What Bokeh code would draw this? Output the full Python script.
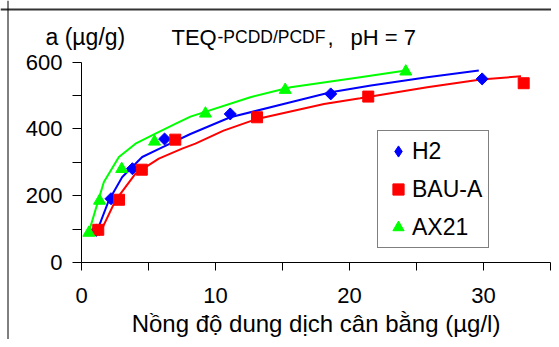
import math
from bokeh.plotting import figure
from bokeh.models import Range1d, FixedTicker, Legend, LegendItem, Label, Span
from bokeh.embed import file_html
from bokeh.resources import INLINE

# ---------------- data ----------------
series_names = ["H2", "BAU-A", "AX21"]

h2_x = [1.1, 2.2, 3.8, 6.2, 11.1, 18.6, 29.9]
h2_y = [96, 191, 281, 370, 445, 505, 550]
bau_x = [1.25, 2.8, 4.5, 7.0, 13.1, 21.4, 33.0]
bau_y = [98, 188, 278, 368, 435, 497, 537]
ax_x = [0.55, 1.35, 3.0, 5.45, 9.25, 15.2, 24.2]
ax_y = [89, 185, 280, 362, 446, 517, 572]

# fitted isotherm curves
h2_fit_x = [1.04, 2.04, 3.04, 4.53, 6.02, 8.13, 11.1, 15.6, 18.6, 21.6, 25.8, 29.65]
h2_fit_y = [81, 186, 256, 316, 345, 385, 435, 480, 510, 530, 555, 575]
bau_fit_x = [1.29, 2.54, 4.03, 5.77, 7.51, 8.5, 10.6, 13.1, 18.1, 20.8, 25.8, 29.8, 32.8]
bau_fit_y = [81, 186, 266, 311, 341, 356, 395, 430, 475, 492, 525, 548, 558]
ax_fit_x = [0.55, 1.29, 1.67, 2.79, 4.03, 5.52, 7.0, 8.13, 12.6, 15.6, 20.8, 24.2]
ax_fit_y = [91, 191, 241, 316, 356, 386, 415, 437, 495, 525, 555, 575]

x_ticks = [0, 10, 20, 30]
x_minor_ticks = [5, 15, 25, 35]
y_ticks = [0, 200, 400, 600]
y_minor_ticks = [100, 300, 500]
x_axis_bounds = (0, 35)
y_axis_bounds = (0, 600)

x_label = "Nồng độ dung dịch cân bằng (µg/l)"
y_label = "a (µg/g)"
title_parts = ["TEQ", "-PCDD/PCDF", ",", "pH = 7"]

# ---------------- layout (canvas pixels) ----------------
W, H = 551, 339
X0_PX, X_PX_PER_UNIT = 81.0, 13.4          # canvas x of data x=0, px per unit
Y0_PX, Y_PX_PER_UNIT = 262.0, 200.3 / 600  # canvas y of data y=0, px per unit


def dx(px):
    return (px - X0_PX) / X_PX_PER_UNIT


def dy(py):
    return (Y0_PX - py) / Y_PX_PER_UNIT


FONT = "Liberation Sans"
BLUE, RED, GREEN = "#0000FF", "#FF0000", "#00FF00"

p = figure(
    width=W, height=H,
    output_backend="svg", toolbar_location=None,
    x_range=Range1d(dx(0), dx(W)),
    y_range=Range1d(dy(H), dy(0)),
    min_border=0, min_border_left=0, min_border_right=0,
    min_border_top=0, min_border_bottom=0,
    background_fill_color="white", border_fill_color="white",
    outline_line_color=None,
)
p.grid.visible = False

xa, ya = p.xaxis[0], p.yaxis[0]
xa.fixed_location = 0
ya.fixed_location = 0
xa.bounds = x_axis_bounds
ya.bounds = y_axis_bounds
for ax in (xa, ya):
    ax.axis_line_color = "black"
    ax.axis_line_width = 1
    ax.major_tick_line_color = "black"
    ax.minor_tick_line_color = "black"
    ax.major_tick_in = 0
    ax.minor_tick_in = 0
    ax.major_label_text_font = FONT
    ax.major_label_text_font_size = "22px"
    ax.major_label_text_color = "black"

xa.ticker = FixedTicker(ticks=x_ticks, minor_ticks=x_minor_ticks)
ya.ticker = FixedTicker(ticks=y_ticks, minor_ticks=y_minor_ticks)
xa.major_tick_out = 8
xa.minor_tick_out = 8
ya.major_tick_out = 9
ya.minor_tick_out = 9
xa.major_label_standoff = 17
ya.major_label_standoff = 10

xa.axis_label = x_label
xa.axis_label_text_font = FONT
xa.axis_label_text_font_size = "24px"
xa.axis_label_text_font_style = "normal"
xa.axis_label_text_color = "black"
xa.axis_label_standoff = 4

# outer chart border (top and left edges)
p.add_layout(Span(location=dy(9), dimension="width",
                  line_color="#333333", line_width=2))
p.add_layout(Span(location=dx(7.5), dimension="height",
                  line_color="black", line_width=1))

# fitted lines
p.line(h2_fit_x, h2_fit_y, line_color=BLUE, line_width=2)
p.line(bau_fit_x, bau_fit_y, line_color=RED, line_width=2)
p.line(ax_fit_x, ax_fit_y, line_color=GREEN, line_width=2)

# markers
p.scatter(h2_x, h2_y, marker="square", angle=math.pi / 4, size=8.5,
          fill_color=BLUE, line_color=BLUE)
r_bau = p.scatter(bau_x, bau_y, marker="square", size=11,
                  fill_color=RED, line_color=RED)
r_ax = p.scatter(ax_x, ax_y, marker="triangle", size=12,
                 fill_color=GREEN, line_color=GREEN)
# legend proxy for the diamond symbol (not drawn in the plot)
r_h2_leg = p.scatter([float("nan")], [float("nan")], marker="diamond",
                     fill_color=BLUE, line_color=BLUE)

legend = Legend(
    items=[LegendItem(label=series_names[0], renderers=[r_h2_leg]),
           LegendItem(label=series_names[1], renderers=[r_bau]),
           LegendItem(label=series_names[2], renderers=[r_ax])],
    location=(377, H - 248),
    glyph_width=28, glyph_height=28,
    spacing=10, padding=6, label_standoff=0,
    label_text_font=FONT, label_text_font_size="23px",
    label_text_color="black",
    border_line_color="black", border_line_width=1,
    background_fill_color="white", background_fill_alpha=1.0,
)
p.add_layout(legend, "center")


def add_text(txt, px, size):
    p.add_layout(Label(x=dx(px), y=dy(36.5), text=txt,
                       text_font=FONT, text_font_size=size, text_color="black",
                       text_baseline="alphabetic", text_align="left"))


add_text(y_label, 45, "23px")
add_text(title_parts[0], 171, "22px")
add_text(title_parts[1], 217, "17.5px")
add_text(title_parts[2], 327, "22px")
add_text(title_parts[3], 350, "22px")

open("out.html", "w").write(file_html(p, INLINE))
